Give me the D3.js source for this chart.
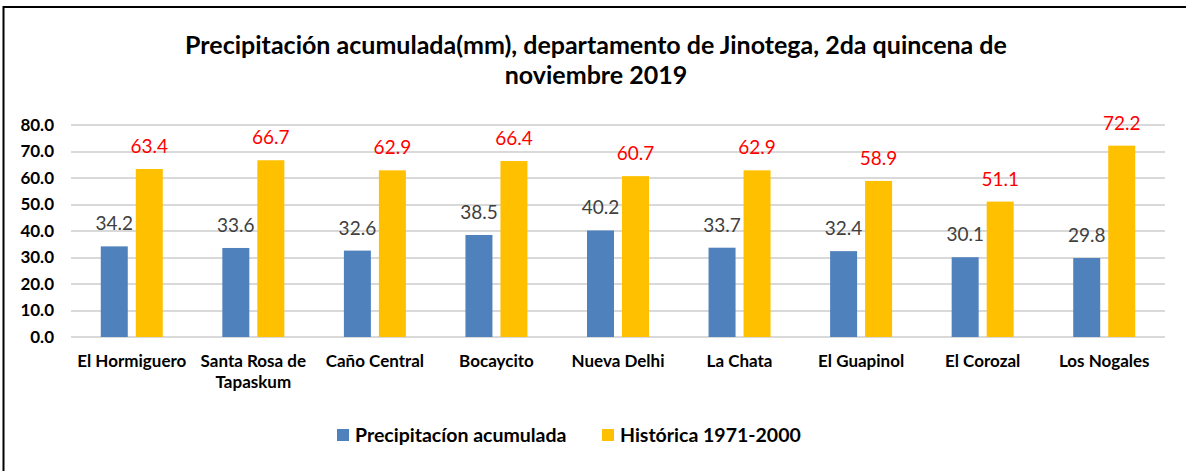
<!DOCTYPE html>
<html>
<head>
<meta charset="utf-8">
<script src="https://cdn.jsdelivr.net/npm/d3@7"></script>
<style>
  body { margin: 0; background: #fff; }
  svg { display: block; font-family: Lato, "Open Sans", sans-serif; }
</style>
</head>
<body>
<svg width="1186" height="471"></svg>
<script>
// data
var estaciones = ["El Hormiguero", "Santa Rosa de Tapaskum", "Caño Central", "Bocaycito",
  "Nueva Delhi", "La Chata", "El Guapinol", "El Corozal", "Los Nogales"];
var acumulada = [34.2, 33.6, 32.6, 38.5, 40.2, 33.7, 32.4, 30.1, 29.8];
var historica = [63.4, 66.7, 62.9, 66.4, 60.7, 62.9, 58.9, 51.1, 72.2];
var series = ["Precipitacíon acumulada", "Histórica 1971-2000"];
var yTicks = [0, 10, 20, 30, 40, 50, 60, 70, 80];
var titulo = ["Precipitación acumulada(mm), departamento de Jinotega, 2da quincena de",
  "noviembre 2019"];

var colores = ["#4F81BD", "#FFC000"];
var colorEtiqueta = ["#404040", "#FF0000"];

var svg = d3.select("svg");

// chart border (only left and top visible in the picture)
svg.append("rect")
  .attr("x", 3.5).attr("y", 7)
  .attr("width", 1200).attr("height", 480)
  .attr("fill", "none").attr("stroke", "#000").attr("stroke-width", 2);

// title
svg.append("g").selectAll("text")
  .data(titulo)
  .enter().append("text")
    .attr("x", 596)
    .attr("y", function(d, i) { return 54 + i * 30; })
    .attr("text-anchor", "middle")
    .attr("font-size", 25)
    .attr("font-weight", "bold")
    .attr("fill", "#000")
    .text(function(d) { return d; });

var mLeft = 71, mRight = 1165, mTop = 125, mBottom = 337;

var x = d3.scaleBand().domain(estaciones).range([mLeft, mRight]).padding(0);
var bw = x.bandwidth();
var x1 = d3.scaleBand().domain(d3.range(2))
  .range([bw / 2 - 31, bw / 2 + 31]).paddingInner(0.229);

var y = d3.scaleLinear().domain([0, 80]).range([mBottom, mTop]);

// gridlines
svg.append("g")
  .selectAll("line")
  .data(yTicks)
  .enter().append("line")
    .attr("x1", mLeft).attr("x2", mRight)
    .attr("y1", function(d) { return Math.round(y(d)); })
    .attr("y2", function(d) { return Math.round(y(d)); })
    .attr("stroke", "#D9D9D9").attr("stroke-width", 2);

// y axis labels
var yAxis = d3.axisLeft(y).tickValues(yTicks).tickSize(0).tickPadding(0)
  .tickFormat(d3.format(".1f"));
var gy = svg.append("g").attr("transform", "translate(54,0)").call(yAxis);
gy.select(".domain").remove();
gy.selectAll("text")
  .attr("font-family", "Lato, 'Open Sans', sans-serif")
  .attr("font-size", 17).attr("font-weight", "bold").attr("fill", "#000");

// bars
var filas = estaciones.map(function(e, i) { return [acumulada[i], historica[i]]; });

var grupos = svg.append("g").selectAll("g")
  .data(filas)
  .enter().append("g")
    .attr("transform", function(d, i) { return "translate(" + x(estaciones[i]) + ",0)"; });

grupos.selectAll("rect")
  .data(function(d) { return d; })
  .enter().append("rect")
    .attr("x", function(d, j) { return x1(j); })
    .attr("y", function(d) { return y(d); })
    .attr("width", x1.bandwidth())
    .attr("height", function(d) { return y(0) - y(d); })
    .attr("fill", function(d, j) { return colores[j]; });

grupos.selectAll("text")
  .data(function(d) { return d; })
  .enter().append("text")
    .attr("x", function(d, j) { return x1(j) + x1.bandwidth() / 2; })
    .attr("y", function(d) { return y(d) - 16; })
    .attr("text-anchor", "middle")
    .attr("font-size", 19)
    .attr("fill", function(d, j) { return colorEtiqueta[j]; })
    .text(function(d) { return d3.format(".1f")(d); });

// category labels
var xAxis = d3.axisBottom(x).tickSize(0).tickPadding(0);
var gx = svg.append("g").attr("transform", "translate(0,0)").call(xAxis);
gx.select(".domain").remove();
gx.selectAll("text")
  .attr("font-family", "Lato, 'Open Sans', sans-serif")
  .attr("font-size", 17).attr("font-weight", "bold").attr("fill", "#000")
  .attr("dy", null)
  .call(wrap, 122);

function wrap(text, width) {
  text.each(function() {
    var t = d3.select(this),
        words = t.text().split(/\s+/),
        line = [], lines = [];
    words.forEach(function(w) {
      line.push(w);
      t.text(line.join(" "));
      if (this.getComputedTextLength() > width && line.length > 1) {
        line.pop();
        lines.push(line.join(" "));
        line = [w];
      }
    }, this);
    lines.push(line.join(" "));
    t.text(null);
    lines.forEach(function(l, k) {
      t.append("tspan").attr("x", 0).attr("y", 367 + k * 21).text(l);
    });
  });
}

// legend
var leyenda = svg.append("g").selectAll("g")
  .data(series)
  .enter().append("g")
    .attr("transform", function(d, i) { return "translate(" + (i === 0 ? 337 : 602) + ",430)"; });

leyenda.append("rect")
  .attr("x", 0).attr("y", -1)
  .attr("width", 12).attr("height", 12)
  .attr("fill", function(d, i) { return colores[i]; });

leyenda.append("text")
  .attr("x", 18).attr("y", 12)
  .attr("font-size", 19.5).attr("font-weight", "bold").attr("fill", "#000")
  .text(function(d) { return d; });
</script>
</body>
</html>
